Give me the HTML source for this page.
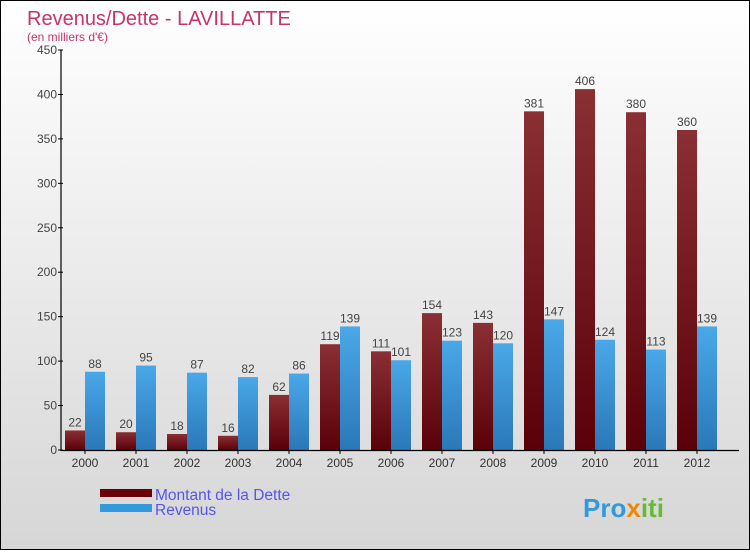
<!DOCTYPE html>
<html><head><meta charset="utf-8"><style>
body{margin:0}
#c{width:748px;height:548px;border:1px solid #000;background:linear-gradient(#fff,#d6d6d6);position:relative;font-family:"Liberation Sans","DejaVu Sans",sans-serif}
</style></head><body>
<div id="c">
<svg id="s" width="748" height="548">
<defs>
<linearGradient id="gd" x1="0" y1="0" x2="0" y2="1"><stop offset="0" stop-color="#8a3034"/><stop offset="1" stop-color="#5a0008"/></linearGradient>
<linearGradient id="gb" x1="0" y1="0" x2="0" y2="1"><stop offset="0" stop-color="#4aa8e8"/><stop offset="1" stop-color="#2a78b8"/></linearGradient>
</defs>
<text x="26" y="24" font-size="20" fill="#c8336a">Revenus/Dette - LAVILLATTE</text>
<text x="26" y="40" font-size="12" fill="#c8336a">(en milliers d'€)</text>
<g id="g"></g>
<rect x="99" y="488" width="52" height="8" fill="#6a0008"/>
<rect x="99" y="503" width="52" height="8" fill="#3399dd"/>
<text x="154" y="499" font-size="15.5" fill="#5555ee">Montant de la Dette</text>
<text x="154" y="514" font-size="15.5" fill="#5555ee">Revenus</text>
<text x="582" y="516" font-size="26" font-weight="bold" fill="#3399dd">Pro<tspan fill="#ee8800">x</tspan><tspan fill="#66bb33">iti</tspan></text>
</svg></div>
<script>
const categories=["2000","2001","2002","2003","2004","2005","2006","2007","2008","2009","2010","2011","2012"];
const dette=[22,20,18,16,62,119,111,154,143,381,406,380,360];
const revenus=[88,95,87,82,86,139,101,123,120,147,124,113,139];
const yTicks=[0,50,100,150,200,250,300,350,400,450];
const NS="http://www.w3.org/2000/svg";
const g=document.getElementById('g');
const y=v=>449-v*400/450;
const xc=i=>84+i*51;
function mk(t,a,txt){const e=document.createElementNS(NS,t);for(const k in a)e.setAttribute(k,a[k]);if(txt!=null)e.textContent=txt;g.appendChild(e);return e;}
categories.forEach((c,i)=>{
 let r=mk('rect',{x:xc(i)-20,y:y(dette[i]),width:20,height:449-y(dette[i]),fill:'url(#gd)'});
 
 
 r=mk('rect',{x:xc(i),y:y(revenus[i]),width:20,height:449-y(revenus[i]),fill:'url(#gb)'});
 
 
 let t=mk('text',{x:xc(i)-10,y:y(dette[i])-4,'font-size':12,'text-anchor':'middle',fill:'#444'},dette[i]);
 
 
 t=mk('text',{x:xc(i)+10,y:y(revenus[i])-4,'font-size':12,'text-anchor':'middle',fill:'#444'},revenus[i]);
 
 
 t=mk('text',{x:xc(i),y:466,'font-size':12,'text-anchor':'middle',fill:'#333'},c);
 
 
 mk('line',{x1:xc(i),x2:xc(i),y1:449,y2:453,stroke:'#000'});
});
yTicks.forEach(v=>{
 mk('line',{x1:57,x2:62,y1:y(v),y2:y(v),stroke:'#000'});
 const t=mk('text',{x:56,y:y(v)+4,'font-size':12,'text-anchor':'end',fill:'#444'},v);
 
 
});
let a=mk('line',{x1:60,x2:60,y1:49,y2:450,stroke:'#000','stroke-width':1.2});


a=mk('line',{x1:60,x2:738,y1:449.5,y2:449.5,stroke:'#000','stroke-width':1.2});


</script>
</body></html>
